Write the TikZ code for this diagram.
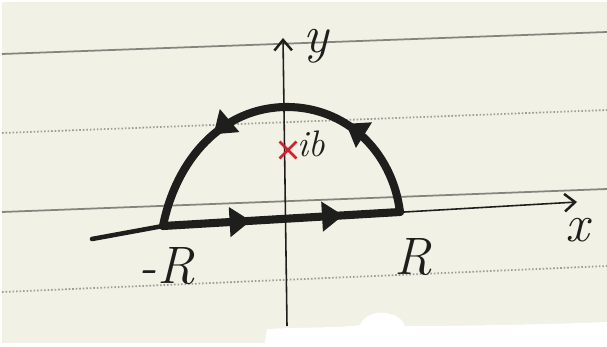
\documentclass[tikz,border=0pt]{standalone}
\usepackage{amsmath}
\usetikzlibrary{arrows.meta,decorations.markings,shapes.misc}
\definecolor{pcpaper}{HTML}{F1F1E5}
\definecolor{pcink}{HTML}{1E1E1C}
\definecolor{pcrule}{HTML}{85857F}
\definecolor{pcred}{HTML}{D4202E}
\tikzset{
  ruled/.style  ={draw=pcrule, line width=1pt},
  dotrule/.style={draw=pcrule!80, line width=1pt, dash pattern=on 0.9pt off 1.1pt},
  axis/.style   ={draw=pcink, line width=0.9pt, -{Straight Barb[length=6pt,width=10pt,line width=1.4pt]}},
  stub/.style   ={draw=pcink, line width=2.6pt, line cap=round},
  contour/.style={draw=pcink, line width=4.6pt, line cap=round, line join=round},
  flow/.style 2 args={postaction={decorate, decoration={markings,
      mark=at position #1 with {\arrow{Triangle[length=12pt,width=17pt,line width=1pt]}},
      mark=at position #2 with {\arrow{Triangle[length=12pt,width=17pt,line width=1pt]}}}}},
  pole/.style   ={cross out, draw=pcred, line width=1.6pt, minimum size=8pt, inner sep=0pt},
  lbl/.style    ={text=pcink, font=\fontsize{30}{30}\selectfont\itshape, inner sep=0pt},
  small/.style  ={text=pcink, font=\fontsize{21}{21}\selectfont\itshape, inner sep=0pt},
}

\begin{document}
\begin{tikzpicture}[x=0.02cm,y=-0.02cm]
  \useasboundingbox (0,0) rectangle (607,347);
  \fill[white] (0,0) rectangle (607,347);
  \fill[pcpaper] (2,2) rectangle (607,343);
  \fill[white] (264,347) -- (267,329) .. controls (300,327) and (340,328) .. (360,325)
    .. controls (366,309) and (398,308) .. (405,326)
    .. controls (470,326) and (560,324) .. (607,322) -- (607,347) -- cycle;
  \foreach \ya/\yb in {54/32,212/189}{\draw[ruled] (2,\ya) -- (607,\yb);}
  \foreach \ya/\yb in {133/110,292/266}{\draw[dotrule] (2,\ya) -- (607,\yb);}

  \coordinate (Rm) at (163,226);
  \coordinate (Rp) at (400,212);
  \coordinate (top) at (287,107);
  \coordinate (xfoot) at (92,239);
  \coordinate (xhead) at (577,202);
  \coordinate (yfoot) at (287,326);
  \coordinate (yhead) at (283,38);

  \draw[axis] (yfoot) -- (yhead);
  \draw[stub] (xfoot) -- (Rm);
  \draw[axis] (Rm) -- (xhead);
  \draw[contour, flow={0.37}{0.76}] (Rm) -- (Rp);
  \draw[contour, flow={0.3}{0.7}] (Rp) .. controls (392,150) and (345,107) .. (top)
    .. controls (222,107) and (176,160) .. (Rm);

  \node[pole] (ib) at (288,150) {};
  \node[small, anchor=west] (lblib) at (297,144) {ib};
  \node[lbl] (lbly) at (316,46) {y};
  \node[lbl] (lblx) at (577,230) {x};
  \node[lbl] (lblRm) at (167,266) {-R};
  \node[lbl] (lblRp) at (413,257) {R};
\end{tikzpicture}
\end{document}
